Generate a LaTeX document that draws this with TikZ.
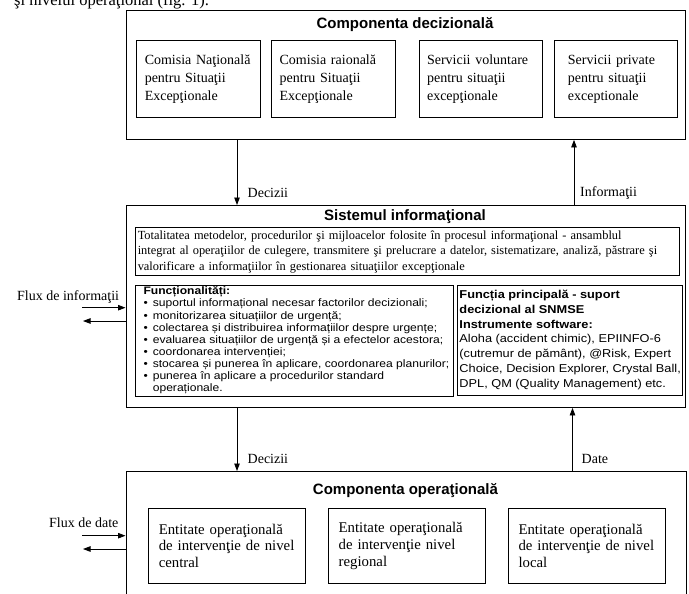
\documentclass[tikz,border=0pt]{standalone}
\usepackage{fontspec}
\setmainfont{Liberation Serif}
\setsansfont{Liberation Sans}
\newfontfamily\widesans[FakeStretch=1.12]{Liberation Sans}
\usetikzlibrary{positioning, arrows.meta}
\newcommand{\itembul}{\makebox[9.3pt][l]{•}}

\begin{document}
\begin{tikzpicture}[
    x=1pt, y=-1pt,
    >={Triangle[length=7.5pt, width=5.5pt]},
    node distance=10.5pt,
    outerbox/.style={draw, line width=0.9pt, anchor=north west, inner sep=0pt},
    title/.style={font=\sffamily\bfseries\fontsize{15}{18}\selectfont},
    decunit/.style={draw, line width=0.9pt, align=left, text width=107.5pt, inner xsep=8pt,
        minimum height=76.5pt, font=\fontsize{14}{18}\selectfont},
    opunit/.style={draw, line width=0.9pt, align=left, text width=136.5pt, inner xsep=10pt,
        minimum height=75pt, font=\fontsize{14.8}{16.7}\selectfont},
    panel/.style={draw, line width=0.9pt, anchor=north west},
    flowlabel/.style={font=\fontsize{14}{17}\selectfont, inner sep=0pt},
    flow/.style={->, line width=0.8pt},
]
\useasboundingbox (0,0) rectangle (689,594);
\clip (0,0) rectangle (689,594);

\node[anchor=base west, inner sep=0pt, font=\fontsize{16.5}{20}\selectfont]
    (intro) at (14,6) {şi nivelul operaţional (fig. 1).};

% === DECIZIONAL ===
\node[outerbox, minimum width=559.5pt, minimum height=129pt] (decbox) at (125.5,10) {};
\node[title] (dectitle) at (405,25) {Componenta decizională};

\node[decunit] (cnse) at (198.5,79) {Comisia Naţională\\pentru Situaţii\\Excepţionale};
\node[decunit, right=of cnse] (crse) {Comisia raională\\pentru Situaţii\\Excepţionale};
\node[decunit, right=23pt of crse] (volunt) {Servicii voluntare\\pentru situaţii\\excepţionale};
\node[decunit, text width=95.5pt, inner xsep=14pt, right=of volunt]
    (privat) {Servicii private\\pentru situaţii\\exceptionale};

% === INFORMATIONAL ===
\node[outerbox, minimum width=559.5pt, minimum height=202pt] (infobox) at (125.5,205) {};
\node[title] (infotitle) at (405,217) {Sistemul informaţional};

\node[panel, align=left, text width=540pt, inner xsep=2pt, inner ysep=1.5pt, minimum height=47.5pt,
      font=\fontsize{12.4}{15.5}\selectfont] (descbox) at (135.3,227.3)
    {Totalitatea metodelor, procedurilor şi mijloacelor folosite în procesul informaţional - ansamblul\\
     integrat al operaţiilor de culegere, transmitere şi prelucrare a datelor, sistematizare, analiză, păstrare şi\\
     valorificare a informaţiilor în gestionarea situaţiilor excepţionale};

\node[panel, minimum width=317.7pt, minimum height=111pt, inner sep=0pt] (funcbox) at (135.3,284.5) {};
\node[anchor=west, align=left, inner sep=0pt, font=\widesans\fontsize{10.8}{12.1}\selectfont]
    (functext) at ([xshift=8pt]funcbox.west)
    {\textbf{Funcționalități:}\\
     \itembul suportul informațional necesar factorilor decizionali;\\
     \itembul monitorizarea situațiilor de urgență;\\
     \itembul colectarea și distribuirea informațiilor despre urgențe;\\
     \itembul evaluarea situațiilor de urgență și a efectelor acestora;\\
     \itembul coordonarea intervenției;\\
     \itembul stocarea și punerea în aplicare, coordonarea planurilor;\\
     \itembul punerea în aplicare a procedurilor standard\\
     \hspace*{9.3pt}operaționale.};

\node[panel, align=left, minimum width=222pt, minimum height=110pt, inner xsep=2pt,
      font=\widesans\fontsize{11.4}{14.8}\selectfont]
    (toolbox) at (457,284.5)
    {\textbf{Funcția principală - suport}\\
     \textbf{decizional al SNMSE}\\
     \textbf{Instrumente software:}\\
     Aloha (accident chimic), EPIINFO-6\\
     (cutremur de pământ), @Risk, Expert\\
     Choice, Decision Explorer, Crystal Ball,\\
     DPL, QM (Quality Management) etc.};

% === OPERATIONAL ===
\node[outerbox, minimum width=560.5pt, minimum height=150pt] (opbox) at (125.5,471) {};
\node[title] (optitle) at (405.5,490.7) {Componenta operaţională};

\node[opunit] (central) at (227,545.8) {Entitate operaţională\\de intervenţie de nivel\\central};
\node[opunit, right=22.5pt of central] (regional) {Entitate operaţională\\de intervenţie nivel\\regional};
\node[opunit, right=22.5pt of regional] (local) {Entitate operaţională\\de intervenţie de nivel\\local};

% === FLOWS ===
\coordinate (decx) at (237,0);
\coordinate (infx) at (574,0);
\coordinate (datx) at (572.5,0);

\draw[flow] (decx |- decbox.south) -- (decx |- infobox.north);
\draw[flow] (infx |- infobox.north) -- (infx |- decbox.south);
\draw[flow] (decx |- infobox.south) -- (decx |- opbox.north);
\draw[flow] (datx |- opbox.north) -- (datx |- infobox.south);

\node[flowlabel, anchor=west] (dec1) at (247.5,193) {Decizii};
\node[flowlabel, anchor=west] (infl) at (580,193) {Informaţii};
\node[flowlabel, anchor=west] (dec2) at (247.5,459) {Decizii};
\node[flowlabel, anchor=west] (datl) at (581.5,459) {Date};

\node[flowlabel, anchor=base west] (fluxinfo) at (17,300) {Flux de informaţii};
\coordinate (fi-in) at (82,307.7);
\coordinate (fi-out) at (83,321);
\draw[flow] (fi-in) -- (fi-in -| infobox.west);
\draw[flow] (fi-out -| infobox.west) -- (fi-out);

\node[flowlabel, anchor=base west] (fluxdate) at (49,527.5) {Flux de date};
\coordinate (fd-in) at (82,535.7);
\coordinate (fd-out) at (83,549);
\draw[flow] (fd-in) -- (fd-in -| opbox.west);
\draw[flow] (fd-out -| opbox.west) -- (fd-out);

\end{tikzpicture}
\end{document}
